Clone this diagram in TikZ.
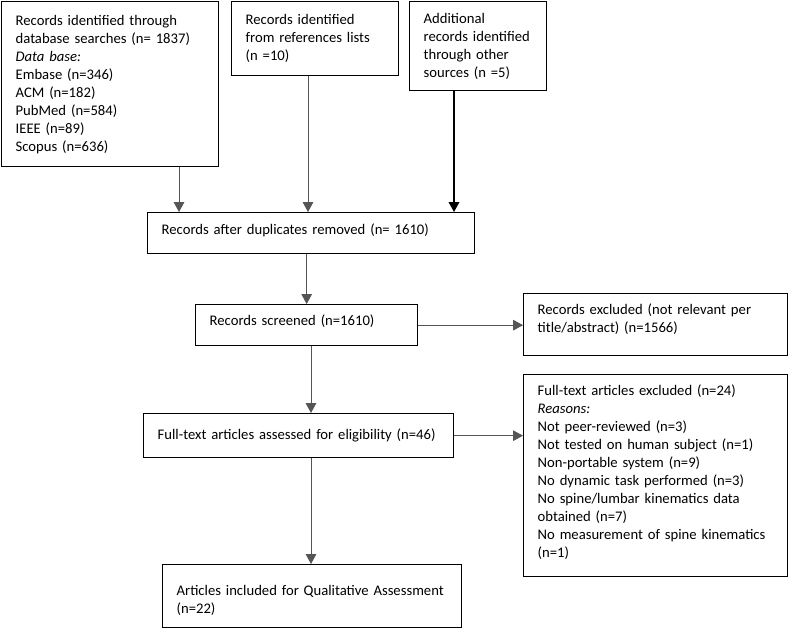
\documentclass[tikz,border=0pt]{standalone}
\usepackage{fontspec}
\setmainfont{Carlito}
\usetikzlibrary{arrows.meta, calc}
\usepackage{xcolor}
\definecolor{linkgray}{RGB}{85,85,85}
% extra room under the last line of a box
\newcommand{\boxpad}[1]{\par\nointerlineskip\noindent\rule{0pt}{#1}}
\tikzset{
    flowbox/.style={draw=black, line width=1pt, anchor=north west, align=left,
        inner xsep=10.5pt, inner ysep=0pt, font=\fontsize{11}{13.5}\selectfont},
    boxsize/.style 2 args={minimum width=#1, minimum height=#2, text width=#1-21pt},
    link/.style={draw=linkgray, line width=0.6pt, -{Triangle[length=7.5pt, width=8pt]}},
    linkbold/.style={link, draw=black, line width=1.1pt}
}

\begin{document}
\begin{tikzpicture}[x=0.75pt, y=-0.75pt]
    \useasboundingbox (0,0) rectangle (788,628);
    % identification
    \node[flowbox, boxsize={162.75pt}{123.75pt}] (db) at (1,1)
        {Records identified through\\ database searches (n= 1837)\\ \textit{Data base:}\\
         Embase (n=346)\\ ACM (n=182)\\ PubMed (n=584)\\ IEEE (n=89)\\ Scopus (n=636)};
    \node[flowbox, boxsize={125.25pt}{55.5pt}] (refs) at (231,1)
        {Records identified\\ from references lists\\ (n =10)};
    \node[flowbox, boxsize={102.75pt}{66.75pt}] (other) at (409,1)
        {Additional\\ records identified\\ through other\\ sources (n =5)};
    % screening
    \node[flowbox, boxsize={245.25pt}{30.75pt}] (dup) at (147,212)
        {Records after duplicates removed (n= 1610)\boxpad{4.5pt}};
    \node[flowbox, boxsize={166.5pt}{30.75pt}] (screened) at (195,304)
        {Records screened (n=1610)\boxpad{6pt}};
    \node[flowbox, boxsize={198pt}{46.5pt}] (exclA) at (523,293)
        {Records excluded (not relevant per\\ title/abstract) (n=1566)\boxpad{9pt}};
    % eligibility
    \node[flowbox, boxsize={232.5pt}{33pt}] (fulltext) at (143,413)
        {Full-text articles assessed for eligibility (n=46)};
    \node[flowbox, boxsize={198pt}{151.5pt}] (exclB) at (523,374)
        {Full-text articles excluded (n=24)\\ \textit{Reasons:}\\ Not peer-reviewed (n=3)\\
         Not tested on human subject (n=1)\\ Non-portable system (n=9)\\
         No dynamic task performed (n=3)\\ No spine/lumbar kinematics data\\
         obtained (n=7)\\ No measurement of spine kinematics\\ (n=1)\boxpad{6pt}};
    % included
    \node[flowbox, boxsize={224.25pt}{47.25pt}] (included) at (162,564)
        {\rule{0pt}{14pt}Articles included for Qualitative Assessment\\ (n=22)};

    \coordinate (xa) at (179,0);
    \coordinate (xb) at (308,0);
    \coordinate (xc) at (454,0);
    \coordinate (xd) at (311,0);

    \draw[link] (db.south -| xa) -- (dup.north -| xa);
    \draw[link] (refs.south -| xb) -- (dup.north -| xb);
    \draw[linkbold] (other.south -| xc) -- (dup.north -| xc);
    \draw[link] (dup.south -| screened.north) -- (screened.north);
    \draw[link] (screened.east) -- (screened.east -| exclA.west);
    \draw[link] (screened.south -| xd) -- (fulltext.north -| xd);
    \draw[link] (fulltext.east) -- (fulltext.east -| exclB.west);
    \draw[link] (fulltext.south -| xd) -- (included.north -| xd);
\end{tikzpicture}
\end{document}
